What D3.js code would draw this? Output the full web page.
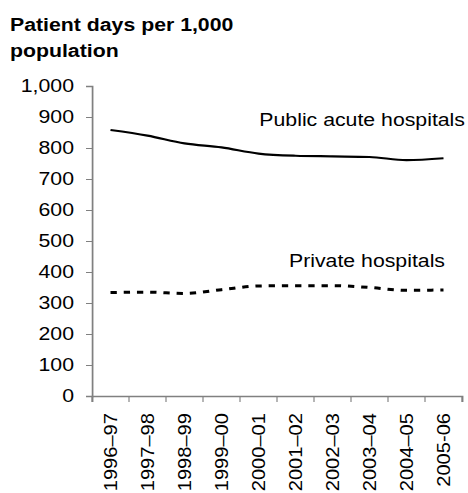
<!DOCTYPE html>
<html>
<head>
<meta charset="utf-8">
<script src="https://cdn.jsdelivr.net/npm/d3@7"></script>
<style>
  body { margin: 0; background: #fff; }
  svg { display: block; font-family: "Liberation Sans", Arial, sans-serif; }
</style>
</head>
<body>
<svg id="chart" width="468" height="493"></svg>
<script>
'use strict';

let years = ['1996\u201397', '1997\u201398', '1998\u201399', '1999\u201300', '2000\u201301',
    '2001\u201302', '2002\u201303', '2003\u201304', '2004\u201305', '2005-06']
let publicAcute = [858, 840, 815, 802, 782, 775, 773, 771, 761, 767]
let privateHosp = [334, 335, 331, 343, 355, 356, 356, 350, 341, 342]
let yTicks = [0, 100, 200, 300, 400, 500, 600, 700, 800, 900, 1000]

// the source picture is a little wider than it is tall, so stretch x
let k = 1.15
let sx = v => v / k

let svg = d3.select('#chart')
    .attr('viewBox', `0 0 ${sx(468)} 493`)
    .attr('preserveAspectRatio', 'none')

let x = d3.scaleBand().domain(years).range([sx(92), sx(462)])
let y = d3.scaleLinear().domain([0, 1000]).range([396, 86])

// title
let title = svg.append('text')
    .attr('x', sx(10))
    .attr('font-size', 18.5)
    .attr('font-weight', 'bold')
    .attr('fill', '#000')
title.append('tspan').attr('x', sx(10)).attr('y', 31).text('Patient days per 1,000')
title.append('tspan').attr('x', sx(10)).attr('y', 57).text('population')

// y axis
let yAxis = svg.append('g')
    .attr('transform', `translate(${sx(92)},0)`)
    .call(d3.axisLeft(y).tickValues(yTicks).tickSize(sx(6)).tickPadding(sx(12))
        .tickFormat(d3.format(',')))
yAxis.selectAll('text').attr('font-size', 18.5).attr('fill', '#000')
    .attr('font-family', '"Liberation Sans", Arial, sans-serif')

// x axis
let xAxis = svg.append('g')
    .attr('transform', `translate(0,${y(0)})`)
    .call(d3.axisBottom(x).tickSize(6).tickSizeOuter(6).tickValues([]))
xAxis.selectAll('.tick').remove()
xAxis.selectAll('.xtick')
    .data(d3.range(years.length + 1))
    .enter().append('line')
    .attr('class', 'xtick')
    .attr('x1', i => x.range()[0] + i * x.step())
    .attr('x2', i => x.range()[0] + i * x.step())
    .attr('y1', 0).attr('y2', 6)
    .attr('stroke', '#808080')
xAxis.selectAll('.xlab')
    .data(years)
    .enter().append('text')
    .attr('class', 'xlab')
    .attr('transform', d => `translate(${x(d) + x.bandwidth() / 2},17) scale(${1 / k},${k}) rotate(-90)`)
    .attr('text-anchor', 'end')
    .attr('dy', '0.35em')
    .attr('font-size', 17.5)
    .attr('fill', '#000')
    .text(d => d)

svg.selectAll('.domain').attr('stroke', '#808080').attr('stroke-width', 1.5)
svg.selectAll('.tick line').attr('stroke', '#808080')

// lines
let line = d3.line()
    .x((d, i) => x(years[i]) + x.bandwidth() / 2)
    .y(d => y(d))
    .curve(d3.curveMonotoneX)

svg.append('path')
    .datum(publicAcute)
    .attr('fill', 'none')
    .attr('stroke', '#000')
    .attr('stroke-width', 2.2)
    .attr('d', line)

svg.append('path')
    .datum(privateHosp)
    .attr('fill', 'none')
    .attr('stroke', '#000')
    .attr('stroke-width', 3)
    .attr('stroke-dasharray', '5.5,6')
    .attr('d', line)

// series labels
svg.append('text')
    .attr('x', sx(465)).attr('y', 126)
    .attr('text-anchor', 'end')
    .attr('font-size', 18.5)
    .text('Public acute hospitals')

svg.append('text')
    .attr('x', sx(445)).attr('y', 267)
    .attr('text-anchor', 'end')
    .attr('font-size', 18.5)
    .text('Private hospitals')
</script>
</body>
</html>
